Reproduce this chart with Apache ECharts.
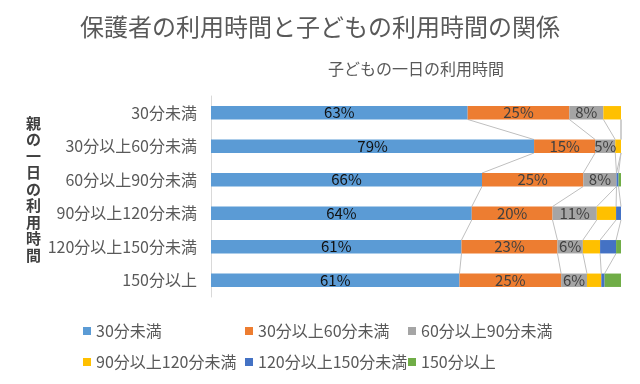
<!DOCTYPE html>
<html>
<head>
<meta charset="utf-8">
<script src="https://cdn.jsdelivr.net/npm/echarts@6/dist/echarts.min.js"></script>
<style>html,body{margin:0;padding:0;background:#fff}#c{width:640px;height:384px}</style>
</head>
<body>
<div id="c"></div>
<script>
const categories = ['30分未満','30分以上60分未満','60分以上90分未満','90分以上120分未満','120分以上150分未満','150分以上'];
const seriesNames = ['30分未満','30分以上60分未満','60分以上90分未満','90分以上120分未満','120分以上150分未満','150分以上'];
const s30 = [62.6, 78.8, 66.1, 63.6, 61.1, 60.6];
const s30_60 = [24.8, 14.9, 24.7, 19.7, 23.4, 24.8];
const s60_90 = [8.3, 4.9, 8.1, 10.8, 6.2, 6.3];
const s90_120 = [4.3, 1.4, 0, 4.7, 4.2, 3.5];
const s120_150 = [0, 0, 0.5, 1.2, 3.9, 0.8];
const s150 = [0, 0, 0.6, 0, 1.2, 4.0];
const titleText = '保護者の利用時間と子どもの利用時間の関係';
const xName = '子どもの一日の利用時間';
const yName = '親の一日の利用時間';

const allSeries = [s30, s30_60, s60_90, s90_120, s120_150, s150];
const colors = ['#5b9bd5','#ed7d31','#a5a5a5','#ffc000','#4472c4','#70ad47'];
const FONT = '"Noto Sans CJK JP", "Noto Sans", sans-serif';

// cumulative boundaries per series (for series lines)
const cum = [];
let run = categories.map(() => 0);
for (let k = 0; k < allSeries.length - 1; k++) {
  run = run.map((v, i) => v + allSeries[k][i]);
  cum.push(run.slice());
}
const pairs = categories.slice(0, -1).map((c, i) => [0, i]);

const chart = echarts.init(document.getElementById('c'), null, {renderer: 'canvas'});
const barSeries = allSeries.map((arr, k) => ({
  name: seriesNames[k],
  type: 'bar',
  stack: 'total',
  barWidth: '40%',
  data: arr,
  itemStyle: {color: colors[k]},
  label: {
    show: k < 3,
    position: 'inside',
    formatter: p => Math.round(p.value) + '%',
    color: k === 0 ? '#111111' : '#404040',
    fontSize: 15,
    fontFamily: FONT
  },
  emphasis: {disabled: true},
  z: 3
}));

const linesSeries = {
  type: 'custom',
  coordinateSystem: 'cartesian2d',
  encode: {x: 0, y: 1},
  silent: true,
  z: 1,
  data: pairs,
  renderItem: function (params, api) {
    const i = api.value(1);
    const band = api.size([0, 1])[1];
    const half = band * 0.4 / 2;
    const children = [];
    for (let k = 0; k < cum.length; k++) {
      const p1 = api.coord([cum[k][i], i]);
      const p2 = api.coord([cum[k][i + 1], i + 1]);
      children.push({
        type: 'line',
        shape: {x1: p1[0], y1: p1[1] + half, x2: p2[0], y2: p2[1] - half},
        style: {stroke: '#bfbfbf', lineWidth: 1}
      });
    }
    return {type: 'group', children: children};
  }
};

const legendPos = [
  [83, 323], [245, 323], [408, 323],
  [83, 354], [245, 354], [408, 354]
];
const legends = seriesNames.map((n, k) => ({
  data: [n],
  left: legendPos[k][0],
  top: legendPos[k][1],
  padding: 0,
  icon: 'rect',
  itemWidth: 8,
  itemHeight: 8,
  selectedMode: false,
  textStyle: {color: '#595959', fontSize: 16, fontFamily: FONT}
}));

chart.setOption({
  animation: false,
  color: colors,
  title: [
    {text: titleText, left: 'center', top: 15, padding: 0,
     textStyle: {color: '#595959', fontSize: 24, fontWeight: 'normal', fontFamily: FONT}},
    {text: yName.split('').join('\n'), left: 26, top: 115, padding: 0,
     textStyle: {color: '#404040', fontSize: 15, fontWeight: 'bold', fontFamily: FONT, lineHeight: 16.5}}
  ],
  legend: legends,
  grid: {left: 211, right: 19, top: 96, bottom: 87, containLabel: false},
  xAxis: {
    type: 'value', min: 0, max: 100, position: 'top',
    axisLine: {show: false}, axisTick: {show: false}, axisLabel: {show: false}, splitLine: {show: false},
    name: xName, nameLocation: 'middle', nameGap: 19,
    nameTextStyle: {color: '#595959', fontSize: 16, fontFamily: FONT}
  },
  yAxis: {
    type: 'category', inverse: true, data: categories,
    axisLine: {show: true, lineStyle: {color: '#d9d9d9', width: 1}},
    axisTick: {show: false},
    axisLabel: {color: '#595959', fontSize: 16, fontFamily: FONT, margin: 14}
  },
  series: barSeries.concat([linesSeries])
});
</script>
</body>
</html>
